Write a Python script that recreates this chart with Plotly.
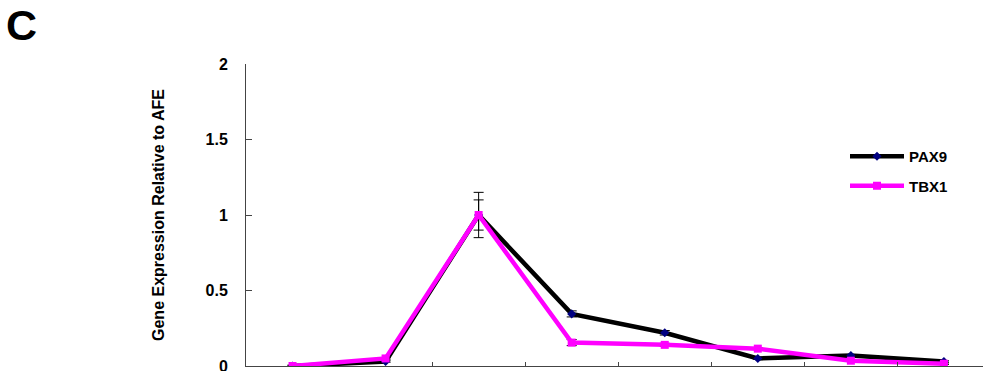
import plotly.graph_objects as go

categories = ["S1", "S2", "S3", "S4", "S5", "S6", "S7", "S8"]
pax9 = [0.0, 0.03, 1.0, 0.345, 0.22, 0.05, 0.07, 0.03]
pax9_err = [0.005, 0.005, 0.15, 0.02, 0.015, 0.005, 0.005, 0.005]
tbx1 = [0.0, 0.05, 1.0, 0.155, 0.14, 0.115, 0.035, 0.015]
tbx1_err = [0.005, 0.005, 0.10, 0.02, 0.01, 0.005, 0.005, 0.005]
y_ticks = [0, 0.5, 1, 1.5, 2]
y_tick_labels = ["0", "0.5", "1", "1.5", "2"]

xs = list(range(len(categories)))

W, H = 983, 371
L, T, B = 246, 64, 5

fig = go.Figure()
fig.add_trace(go.Scatter(
    x=xs, y=pax9, name="PAX9", mode="lines+markers", legendgroup="a",
    line=dict(color="black", width=4.5),
    marker=dict(symbol="diamond", size=7, color="#000080"),
    error_y=dict(type="data", array=pax9_err, color="black", thickness=1, width=5),
))
fig.add_trace(go.Scatter(
    x=xs, y=tbx1, name="TBX1", mode="lines+markers", legendgroup="b",
    line=dict(color="#FF00FF", width=4.5),
    marker=dict(symbol="square", size=8, color="#FF00FF"),
    error_y=dict(type="data", array=tbx1_err, color="black", thickness=1, width=5),
))

pw = W - L
ph = H - T - B

fig.update_layout(
    width=W, height=H,
    margin=dict(l=L, r=0, t=T, b=B, autoexpand=False),
    plot_bgcolor="white", paper_bgcolor="white",
    font=dict(family="Liberation Sans, Arial, sans-serif", size=12, color="black"),
    showlegend=True,
    legend=dict(x=(845 - L) / pw, y=(H - B - 140) / ph, xanchor="left", yanchor="top",
                font=dict(size=15, color="black", weight="bold"),
                itemwidth=54, traceorder="grouped", tracegroupgap=7,
                bgcolor="rgba(0,0,0,0)"),
    annotations=[dict(text="<b>C</b>", x=(4 - L) / pw, y=(H - B + 1) / ph,
                      xref="paper", yref="paper",
                      xanchor="left", yanchor="top", showarrow=False,
                      font=dict(size=43, color="black"))],
)

fig.update_xaxes(
    range=[-0.5, 7.42], showgrid=False, zeroline=False,
    showline=True, linecolor="#444", linewidth=1,
    tickmode="array", tickvals=[1.5, 2.5, 3.5, 4.5, 5.5, 6.5],
    ticktext=[""] * 6, ticks="inside", ticklen=4, tickcolor="#444",
)
fig.update_yaxes(
    range=[0, 2], showgrid=False, zeroline=False,
    showline=True, linecolor="#444", linewidth=1,
    tickmode="array", tickvals=y_ticks, ticktext=y_tick_labels,
    ticks="inside", ticklen=6, tickcolor="#444", ticklabelstandoff=14,
    ticklabeloverflow="allow",
    tickfont=dict(size=16, color="black", weight="bold"),
    title=dict(text="<b>Gene Expression Relative to AFE</b>", standoff=36,
               font=dict(size=16, color="black")),
)

fig.write_html("out.html", config={"displayModeBar": False},
               post_script="document.body.style.margin='0';")
